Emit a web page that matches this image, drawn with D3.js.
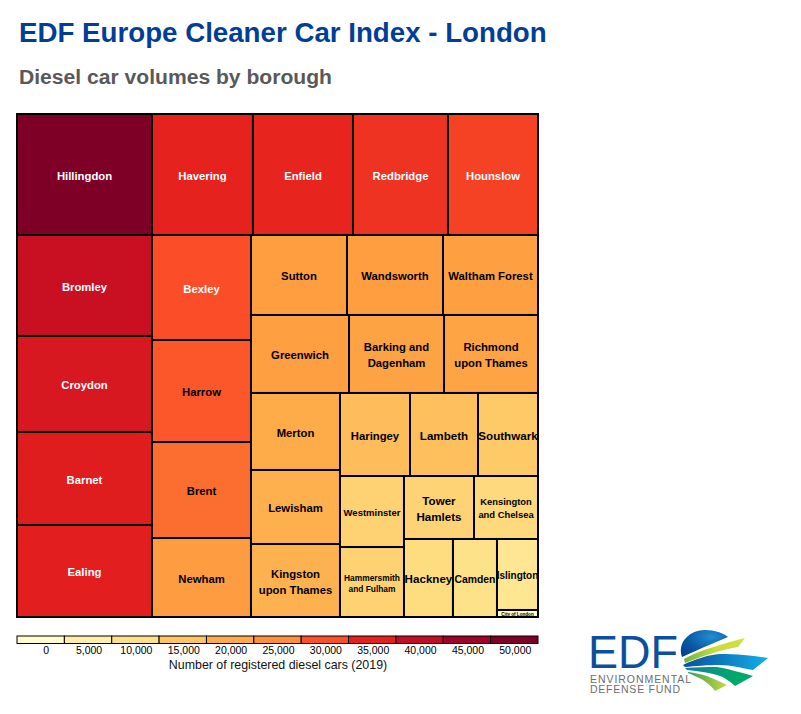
<!DOCTYPE html>
<html><head><meta charset="utf-8">
<script src="https://cdn.jsdelivr.net/npm/d3@7"></script>
<style>html,body{margin:0;padding:0;background:#fff}svg{display:block}text{font-family:"Liberation Sans",Arial,sans-serif}</style>
</head><body>
<svg id="c" width="801" height="714"></svg>
<script>
const boroughs = ["Hillingdon","Havering","Enfield","Redbridge","Hounslow","Bromley","Croydon","Barnet","Ealing","Bexley","Harrow","Brent","Newham","Sutton","Wandsworth","Waltham Forest","Greenwich","Barking and Dagenham","Richmond upon Thames","Merton","Lewisham","Kingston upon Thames","Haringey","Lambeth","Southwark","Westminster","Hammersmith and Fulham","Tower Hamlets","Kensington and Chelsea","Hackney","Camden","Islington","City of London"];
const dieselCars = [46000,34400,34080,32370,30670,38390,36500,35360,34980,29270,28440,26760,22020,21630,21630,21400,21530,20870,20640,19300,18550,18300,16370,15900,14030,12800,12610,12420,11350,10760,9670,8200,810];
const legendTicks = [0,5000,10000,15000,20000,25000,30000,35000,40000,45000,50000];
const legendColors = ["#ffffcc","#ffefa8","#fee187","#fec561","#feab49","#fd9039","#fc5029","#e5211d","#c30d24","#a0012a","#7f0026"];
const colorStops = [0,5000,10000,15000,19500,24000,29000,34500,39200,43000,46000];

const valueOf = Object.fromEntries(boroughs.map((b,i)=>[b,dieselCars[i]]));
const row = (...c)=>({dir:"row",children:c.map(leaf)});
const col = (...c)=>({dir:"col",children:c.map(leaf)});
function leaf(x){return typeof x==="string"?{name:x,value:valueOf[x]}:x;}

// nesting of the blocks, as in the reference's tiling
const tree = col(
  row("Hillingdon","Havering","Enfield","Redbridge","Hounslow"),
  row(
    col("Bromley","Croydon","Barnet","Ealing"),
    col("Bexley","Harrow","Brent","Newham"),
    col(
      row("Sutton","Wandsworth","Waltham Forest"),
      row("Greenwich","Barking and Dagenham","Richmond upon Thames"),
      row(
        col("Merton","Lewisham","Kingston upon Thames"),
        col(
          row("Haringey","Lambeth","Southwark"),
          row(
            col("Westminster","Hammersmith and Fulham"),
            col(
              row("Tower Hamlets","Kensington and Chelsea"),
              row("Hackney","Camden",col("Islington","City of London"))
            )
          )
        )
      )
    )
  )
);

const fontSizes = {"Westminster":9.5,"Hammersmith and Fulham":8.4,"Kensington and Chelsea":9.4,"Islington":10,"Southwark":11.6,"Hackney":11.6,"Lambeth":11.6,"Tower Hamlets":11.6,"Camden":10.4,"City of London":4.6};
const lineBreaks = {"Barking and Dagenham":["Barking and","Dagenham"],"Richmond upon Thames":["Richmond","upon Thames"],"Kingston upon Thames":["Kingston","upon Thames"],"Hammersmith and Fulham":["Hammersmith","and Fulham"],"Tower Hamlets":["Tower","Hamlets"],"Kensington and Chelsea":["Kensington","and Chelsea"]};
const lineHeights = {"Hammersmith and Fulham":11,"Kensington and Chelsea":13};

const svg = d3.select("#c");
svg.append("text").attr("x",19).attr("y",42).attr("font-size",27.7).attr("font-weight","bold").attr("fill","#003f95").text("EDF Europe Cleaner Car Index - London");
svg.append("text").attr("x",19).attr("y",84).attr("font-size",21.1).attr("font-weight","bold").attr("fill","#595959").text("Diesel car volumes by borough");

const color = d3.scaleLinear().domain(colorStops).range(legendColors).clamp(true);
const root = d3.hierarchy(tree).sum(d=>d.value||0);
d3.treemap().size([521,503]).tile((n,a,b,c,d)=>(n.data.dir==="row"?d3.treemapDice:d3.treemapSlice)(n,a,b,c,d))(root);

const g = svg.append("g").attr("transform","translate(17,114)");
const cell = g.selectAll("g").data(root.leaves()).join("g");
cell.append("rect").attr("x",d=>d.x0).attr("y",d=>d.y0).attr("width",d=>d.x1-d.x0).attr("height",d=>d.y1-d.y0)
  .attr("fill",d=>color(d.data.value)).attr("stroke","#000").attr("stroke-width",2);
cell.each(function(d){
  const lines = lineBreaks[d.data.name]||[d.data.name];
  const fs = fontSizes[d.data.name]||11.3, lh = lineHeights[d.data.name]||16;
  const cx=(d.x0+d.x1)/2, cy=(d.y0+d.y1)/2+1;
  const t=d3.select(this).append("text").attr("text-anchor","middle").attr("font-size",fs).attr("font-weight","bold")
    .attr("fill",d.data.value>=29000?"#fff":"#000");
  lines.forEach((l,i)=>t.append("tspan").attr("x",cx).attr("y",cy+(i-(lines.length-1)/2)*lh+fs*0.36).text(l));
});

// legend
const lx = d3.scaleBand().domain(legendTicks).range([17,538]);
const lg = svg.append("g");
lg.selectAll("rect").data(legendTicks).join("rect").attr("x",d=>lx(d)).attr("y",636).attr("width",lx.bandwidth()).attr("height",7.5)
  .attr("fill",(d,i)=>legendColors[i]).attr("stroke","#000").attr("stroke-width",1);
const ax = svg.append("g").attr("transform","translate(0,644)").call(d3.axisBottom(lx).tickSize(0).tickPadding(3).tickFormat(d3.format(",")));
ax.select(".domain").remove();
ax.selectAll("text").attr("font-size",10.5).attr("font-family",'"Liberation Sans",Arial,sans-serif').attr("fill","#000").attr("dx",d=>d===0?5.5:1);
svg.append("text").attr("x",278).attr("y",669).attr("text-anchor","middle").attr("font-size",12.4).attr("fill","#111").text("Number of registered diesel cars (2019)");

// logo
const defs = svg.append("defs");
const gr = defs.append("radialGradient").attr("id","globe").attr("cx","0.65").attr("cy","0.25").attr("r","0.9");
gr.append("stop").attr("offset",0).attr("stop-color","#1f8fd0");
gr.append("stop").attr("offset",0.55).attr("stop-color","#0b5aa6");
gr.append("stop").attr("offset",1).attr("stop-color","#003f8f");
const g2 = defs.append("linearGradient").attr("id","sw1").attr("x1",0).attr("x2",1);
g2.append("stop").attr("offset",0).attr("stop-color","#0b4f9e"); g2.append("stop").attr("offset",1).attr("stop-color","#10b0e6");
const g3 = defs.append("linearGradient").attr("id","sw2").attr("x1",0).attr("x2",1);
g3.append("stop").attr("offset",0).attr("stop-color","#0f7fa0"); g3.append("stop").attr("offset",0.7).attr("stop-color","#00a86b"); g3.append("stop").attr("offset",1).attr("stop-color","#00a86b");
const g4 = defs.append("linearGradient").attr("id","sw3").attr("x1",0).attr("x2",1);
g4.append("stop").attr("offset",0).attr("stop-color","#3a9a5a"); g4.append("stop").attr("offset",1).attr("stop-color","#c8dc3c");
const g5 = defs.append("linearGradient").attr("id","sw4").attr("x1",0).attr("x2",1);
g5.append("stop").attr("offset",0).attr("stop-color","#6db33f"); g5.append("stop").attr("offset",0.5).attr("stop-color","#c8dc3c"); g5.append("stop").attr("offset",1).attr("stop-color","#d2df3f");
const logo = svg.append("g");
logo.append("path").attr("fill","url(#globe)").attr("d","M682,657 C677,642 690,630 705,630 C715,630 723,633 728,637 L702,648 Z");
logo.append("path").attr("fill","url(#sw4)").attr("d","M684,659 C700,650 722,644 745,638 L738,647 C720,650 700,657 685,663 Z");
logo.append("path").attr("fill","url(#sw1)").attr("d","M683,665 C695,659 708,655 720,654 C738,654 755,656 768,658 L753,670 C742,668 730,665 720,665 C708,665 695,666 685,667 Z");
logo.append("path").attr("fill","url(#sw2)").attr("d","M685,668 C695,667 706,667 717,667 C730,669 742,673 753,676 L735,686 C730,681 724,677 717,675 C706,672 696,671 687,670 Z");
logo.append("path").attr("fill","url(#sw3)").attr("d","M688,672 C695,673 701,674 707,676 C714,679 721,682 727,685 L715,691 C712,687 708,683 703,680 C698,677 693,675 688,673 Z");
logo.append("text").attr("x",588).attr("y",668).attr("font-size",46).attr("textLength",90).attr("lengthAdjust","spacingAndGlyphs").attr("font-family","Lato, 'Open Sans', sans-serif").attr("fill","#0b4f9e").text("EDF");
logo.append("text").attr("x",590).attr("y",682.5).attr("font-size",10.5).attr("textLength",101).attr("fill","#6d6e71").text("ENVIRONMENTAL");
logo.append("text").attr("x",590).attr("y",693).attr("font-size",10.5).attr("textLength",90).attr("fill","#6d6e71").text("DEFENSE FUND");
</script></body></html>
